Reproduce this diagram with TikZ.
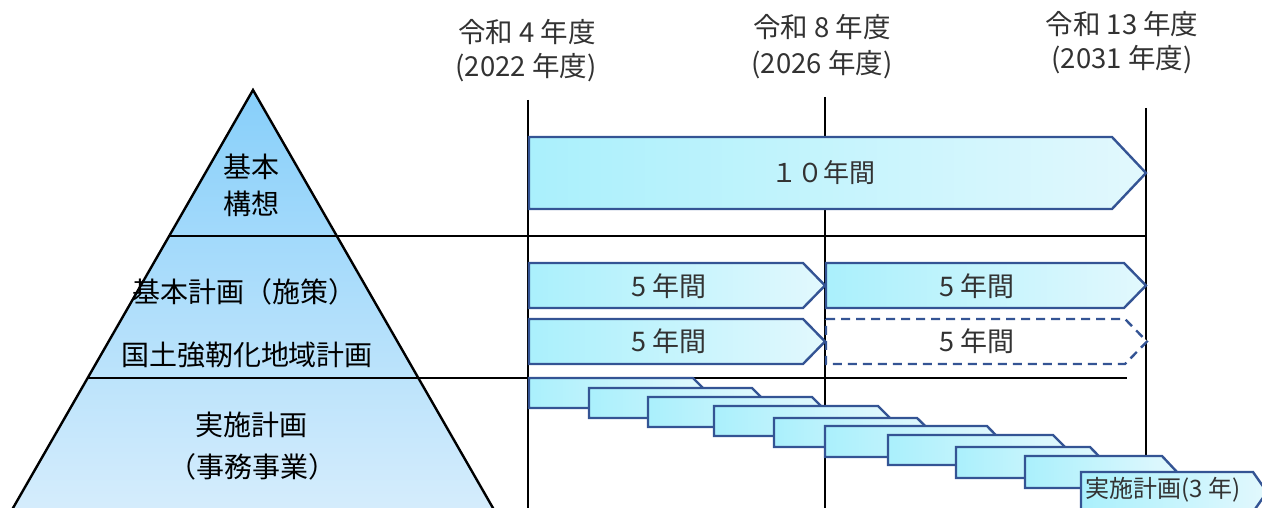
\documentclass[tikz,border=0pt]{standalone}
\usepackage{fontspec}
\setmainfont{Noto Sans CJK JP}
\usepackage{tikz}
\usetikzlibrary{calc,positioning}

\definecolor{barblue}{RGB}{52,84,148}
\definecolor{barleft}{RGB}{170,240,252}
\definecolor{barright}{RGB}{226,248,253}
\definecolor{pyrtop}{RGB}{135,207,250}
\definecolor{pyrbottom}{RGB}{214,237,252}
\definecolor{darktext}{RGB}{50,50,50}

% arrow-shaped period bar: [opts]{left}{top}{chamfer x}{bottom}{tip dx}
\newcommand{\planarrow}[6][]{%
  \draw[planbox,#1] (#2,#3) -- (#4,#3) -- ({#4+#6},{(#3+#5)/2}) -- (#4,#5) -- (#2,#5) -- cycle;}

\begin{document}
\begin{tikzpicture}[x=1pt, y=-1pt,
    planbox/.style={draw=barblue, line width=2.4pt, line join=miter, left color=barleft, right color=barright},
    planempty/.style={fill=white, left color=white, right color=white, dash pattern=on 9pt off 6pt},
    gridline/.style={draw=black, line width=1.8pt},
    layerline/.style={draw=black, line width=2.6pt},
    pyrtext/.style={inner sep=0pt, align=center, font=\fontsize{28}{37}\selectfont},
    yeartext/.style={inner sep=0pt, text=darktext, font=\fontsize{27.5}{30}\selectfont},
    bartext/.style={inner sep=0pt, text=darktext, font=\fontsize{27}{30}\selectfont}]
    \useasboundingbox (0,0) rectangle (1262,508);

    % pyramid
    \draw[line width=2.4pt, top color=pyrtop, bottom color=pyrbottom] (253,90) -- (9,515) -- (497,515) -- cycle;

    % time axis
    \coordinate (t0) at (528,100);
    \coordinate (t1) at (825,97);
    \coordinate (t2) at (1146,108);
    \draw[gridline] (t0) -- (528,508);
    \draw[gridline] (t1) -- (825,508);
    \draw[gridline] (t2) -- (1146,490);

    \draw[layerline] (169,236) -- (1146,236);
    \draw[layerline] (88,378) -- (1127,378);

    \node[yeartext] (r4) at (527,32) {令和 4 年度};
    \node[yeartext] (r4y) at (526,68) {(2022 年度)};
    \node[yeartext] (r8) at (822,27) {令和 8 年度};
    \node[yeartext] (r8y) at (822,65) {(2026 年度)};
    \node[yeartext] (r13) at (1122,24) {令和 13 年度};
    \node[yeartext] (r13y) at (1122,60) {(2031 年度)};

    % layers
    \node[pyrtext] (vision) at (251,185) {基本\\構想};
    \node[pyrtext] (policy) at (244,292) {基本計画（施策）};
    \node[pyrtext] (resilience) at (247,355) {国土強靭化地域計画};
    \node[pyrtext] (action) at (251,425) {実施計画};
    \node[pyrtext] (affairs) at (252,467) {（事務事業）};

    % periods
    \planarrow{529}{137}{1112}{209}{34}
    \node[bartext, font=\fontsize{26}{30}\selectfont] (ten) at (823,173) {１０年間};

    \planarrow{529}{263}{803}{308}{22}
    \planarrow{826}{263}{1124}{308}{22}
    \planarrow{529}{319}{803}{364}{22}
    \planarrow[planempty]{826}{319}{1125}{364}{22}
    \node[bartext] (p1) at (669,286) {5 年間};
    \node[bartext] (p2) at (977,286) {5 年間};
    \node[bartext] (k1) at (669,341) {5 年間};
    \node[bartext] (k2) at (977,341) {5 年間};

    % rolling three-year plans
    \planarrow{529}{378}{693}{408}{15}
    \planarrow{589}{388}{752}{418}{15}
    \planarrow{648}{397}{812}{427}{15}
    \planarrow{714}{406}{878}{436}{15}
    \planarrow{774}{418}{917}{447}{15}
    \planarrow{825}{426}{987}{457}{15}
    \planarrow{888}{435}{1053}{465}{15}
    \planarrow{956}{447}{1090}{478}{15}
    \planarrow{1025}{456}{1162}{488}{15}
    \planarrow{1081}{472}{1253}{512}{14}
    \node[bartext, font=\fontsize{24}{28}\selectfont] (plan3) at (1163,490) {実施計画(3 年)};
\end{tikzpicture}
\end{document}
